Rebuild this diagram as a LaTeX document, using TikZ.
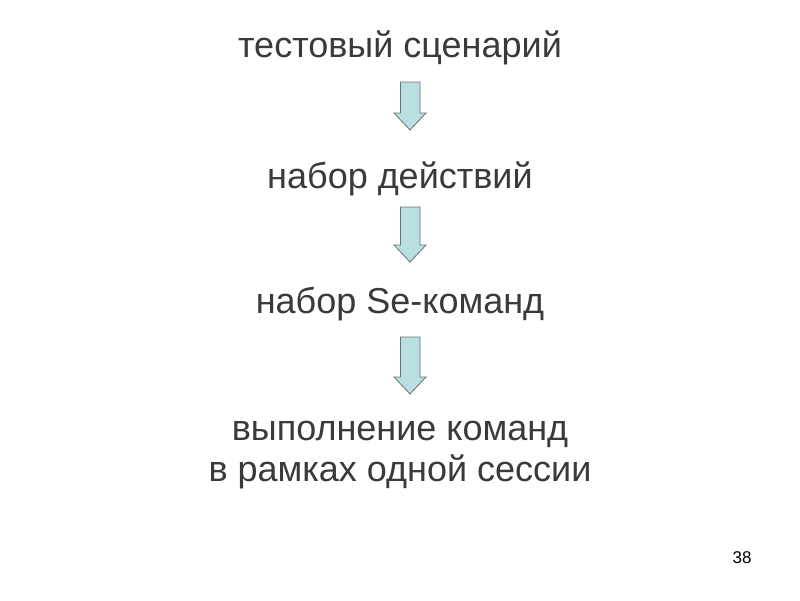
\documentclass[tikz,border=0pt]{standalone}
\usepackage{fontspec}
\setmainfont{Liberation Sans}
\definecolor{txt}{HTML}{3A3A3A}
\definecolor{arrfill}{HTML}{B9DFE1}
\definecolor{arrdraw}{HTML}{707070}
\begin{document}
\begin{tikzpicture}[x=1pt,y=-1pt,
  lbl/.style={text=txt,font=\fontsize{36}{41}\selectfont,inner sep=0pt,align=center},
  dnarrow/.style={fill=arrfill,draw=arrdraw,line width=0.8pt,line join=miter}]
\useasboundingbox (0,0) rectangle (800,600);
\node[lbl] (t1) at (400,48) {тестовый сценарий};
\node[lbl] (t2) at (400,179) {набор действий};
\node[lbl] (t3) at (400,304) {набор Se-команд};
\node[lbl] (t4) at (400,455) {выполнение команд\\в рамках одной сессии};
\node[text=black,font=\fontsize{17}{19}\selectfont,inner sep=0pt] (n) at (742,558) {38};
\foreach \top/\tip [count=\i] in {82/130,207/262,337/394}{
  \pgfmathsetmacro{\hs}{\tip-17}
  \draw[dnarrow] (400.5,\top) -- (420,\top) -- (420,\hs) -- (426,\hs) -- (410,\tip) -- (394,\hs) -- (400.5,\hs) -- cycle;
}
\end{tikzpicture}
\end{document}
